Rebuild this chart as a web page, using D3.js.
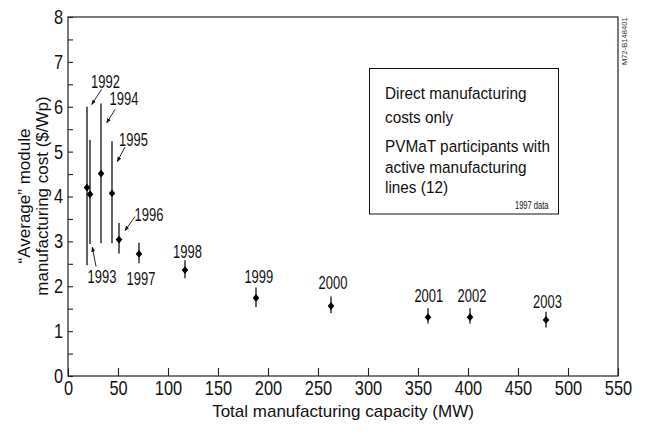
<!DOCTYPE html>
<html>
<head>
<meta charset="utf-8">
<script src="https://cdn.jsdelivr.net/npm/d3@7"></script>
<style>
    html, body { margin: 0; padding: 0; background: #fff; }
    svg { display: block; font-family: "Liberation Sans", Arial, Helvetica, sans-serif; }
</style>
</head>
<body>
<div id="chart"></div>
<script>
// ── Data ──────────────────────────────────────────────────────────────────
const years      = [1992, 1993, 1994, 1995, 1996, 1997, 1998, 1999, 2000, 2001, 2002, 2003];
const capacityMW = [19, 22, 33, 44, 51, 71, 117, 188, 263, 360, 402, 478];
const avgCost    = [4.20, 4.05, 4.51, 4.07, 3.04, 2.72, 2.36, 1.74, 1.56, 1.31, 1.31, 1.25];
const costHigh   = [6.00, 5.26, 6.07, 5.23, 3.41, 2.97, 2.58, 1.97, 1.77, 1.51, 1.51, 1.43];
const costLow    = [2.47, 2.94, 2.96, 2.96, 2.73, 2.51, 2.18, 1.54, 1.40, 1.17, 1.17, 1.08];

// year label anchors, in data units (MW, $/Wp)
const labelMW    = [37.5, 34, 56, 65.5, 81, 73, 119.5, 190.8, 265, 360.8, 404, 479.5];
const labelCost  = [6.41, 2.08, 6.05, 5.12, 3.46, 2.03, 2.63, 2.07, 1.93, 1.64, 1.64, 1.51];

// leader arrows for the crowded early years, in data units
const arrowYears = [1992, 1993, 1994, 1995, 1996];
const arrowFrom  = [[33.7, 6.39], [28, 2.44], [47, 5.94], [57, 5.10], [67, 3.55]];
const arrowTo    = [[23.7, 6.05], [24.3, 2.87], [38.7, 5.64], [49.3, 4.78], [57, 3.24]];

const xTickValues = [0, 50, 100, 150, 200, 250, 300, 350, 400, 450, 500, 550];
const yTickValues = [0, 0.5, 1, 1.5, 2, 2.5, 3, 3.5, 4, 4.5, 5, 5.5, 6, 6.5, 7, 7.5, 8];

const legendLines = ["Direct manufacturing", "costs only", "PVMaT participants with", "active manufacturing", "lines (12)"];

(function () {
    const W = 645, H = 436;
    const plot = { left: 68, right: 618, top: 17, bottom: 376 };

    const x = d3.scaleLinear().domain([0, 550]).range([plot.left, plot.right]);
    const y = d3.scaleLinear().domain([0, 8]).range([plot.bottom, plot.top]);

    const svg = d3.select("#chart").append("svg")
        .attr("width", W).attr("height", H);

    svg.append("rect").attr("width", W).attr("height", H).attr("fill", "#fff");

    // squeeze text horizontally (the source uses a condensed face)
    function narrow(sel, sx) {
        sel.each(function () {
            const t = d3.select(this);
            const x0 = +t.attr("x") || 0;
            t.attr("x", x0 / sx).attr("transform", `scale(${sx},1)`);
        });
    }

    // ── Axes ────────────────────────────────────────────────────────────
    const xAxis = svg.append("g")
        .attr("transform", `translate(0,${plot.bottom})`)
        .call(d3.axisBottom(x).tickValues(xTickValues).tickSize(-8).tickPadding(5));
    xAxis.select(".domain").remove();
    xAxis.selectAll(".tick line").attr("stroke", "#222").attr("stroke-width", 1.1);
    xAxis.selectAll(".tick text").attr("font-size", 20).attr("fill", "#111")
        .call(narrow, 0.82);

    const yAxis = svg.append("g")
        .attr("transform", `translate(${plot.left},0)`)
        .call(d3.axisLeft(y).tickValues(yTickValues).tickSize(-5).tickPadding(5)
            .tickFormat(d => Number.isInteger(d) ? d : ""));
    yAxis.select(".domain").remove();
    yAxis.selectAll(".tick line").attr("stroke", "#222").attr("stroke-width", 1.1);
    yAxis.selectAll(".tick text").attr("font-size", 20).attr("fill", "#111")
        .call(narrow, 0.82);

    // frame
    svg.append("rect")
        .attr("x", plot.left).attr("y", plot.top)
        .attr("width", plot.right - plot.left).attr("height", plot.bottom - plot.top)
        .attr("fill", "none").attr("stroke", "#222").attr("stroke-width", 1.2);

    // axis titles
    svg.append("text")
        .attr("x", (plot.left + plot.right) / 2).attr("y", 417)
        .attr("text-anchor", "middle").attr("font-size", 17).attr("fill", "#111")
        .text("Total manufacturing capacity (MW)");

    const yt = svg.append("g").attr("fill", "#111").attr("font-size", 17).attr("text-anchor", "middle");
    yt.append("text").attr("transform", "translate(30,196) rotate(-90)").text("\u201CAverage\u201D module");
    yt.append("text").attr("transform", "translate(48,196) rotate(-90)").text("manufacturing cost ($/Wp)");

    // ── Error bars and diamonds ─────────────────────────────────────────
    const pts = years.map((yr, i) => ({
        yr, mw: capacityMW[i], v: avgCost[i], hi: costHigh[i], lo: costLow[i],
        lx: labelMW[i], ly: labelCost[i]
    }));

    svg.append("g").selectAll("line").data(pts).join("line")
        .attr("x1", d => x(d.mw)).attr("x2", d => x(d.mw))
        .attr("y1", d => y(d.hi)).attr("y2", d => y(d.lo))
        .attr("stroke", "#111").attr("stroke-width", 1.3);

    const diamond = {
        draw(ctx) {
            const w = 3.3, h = 3.9;
            ctx.moveTo(0, -h); ctx.lineTo(w, 0); ctx.lineTo(0, h); ctx.lineTo(-w, 0); ctx.closePath();
        }
    };
    svg.append("g").selectAll("path").data(pts).join("path")
        .attr("d", d3.symbol().type(diamond))
        .attr("transform", d => `translate(${x(d.mw)},${y(d.v)})`)
        .attr("fill", "#000");

    // ── Year labels ─────────────────────────────────────────────────────
    svg.append("g").selectAll("g").data(pts).join("g")
        .attr("transform", d => `translate(${x(d.lx)},${y(d.ly)})`)
        .append("text")
        .attr("text-anchor", "middle").attr("font-size", 18.5).attr("fill", "#111")
        .text(d => d.yr)
        .call(narrow, 0.7);

    // leader arrows
    const defs = svg.append("defs");
    defs.append("marker")
        .attr("id", "arrowhead").attr("viewBox", "0 0 10 10")
        .attr("refX", 9).attr("refY", 5)
        .attr("markerWidth", 5).attr("markerHeight", 5)
        .attr("markerUnits", "userSpaceOnUse")
        .attr("orient", "auto")
        .append("path").attr("d", "M0,1 L10,5 L0,9 Z").attr("fill", "#111");

    svg.append("g").selectAll("line").data(arrowYears).join("line")
        .attr("x1", (d, i) => x(arrowFrom[i][0])).attr("y1", (d, i) => y(arrowFrom[i][1]))
        .attr("x2", (d, i) => x(arrowTo[i][0])).attr("y2", (d, i) => y(arrowTo[i][1]))
        .attr("stroke", "#111").attr("stroke-width", 0.9)
        .attr("marker-end", "url(#arrowhead)");

    // ── Note box ────────────────────────────────────────────────────────
    const box = svg.append("g").attr("transform", "translate(369.5,68.5)");
    box.append("rect").attr("width", 189).attr("height", 145.5)
        .attr("fill", "#fff").attr("stroke", "#111").attr("stroke-width", 1);
    const lineY = [31, 54.2, 83.2, 104.2, 124.2];
    box.selectAll("text.note").data(legendLines).join("text")
        .attr("class", "note")
        .attr("x", 15.5).attr("y", (d, i) => lineY[i])
        .attr("font-size", 16.5).attr("fill", "#111")
        .text(d => d)
        .call(narrow, 0.93);
    box.append("text").attr("x", 179).attr("y", 141)
        .attr("text-anchor", "end").attr("font-size", 10.5).attr("fill", "#111")
        .text("1997 data")
        .call(narrow, 0.72);

    // figure id, rotated at the right edge
    svg.append("text")
        .attr("transform", "translate(627,65) rotate(-90)")
        .attr("font-size", 7.6).attr("fill", "#333")
        .text("M72-B148401");
})();
</script>
</body>
</html>
